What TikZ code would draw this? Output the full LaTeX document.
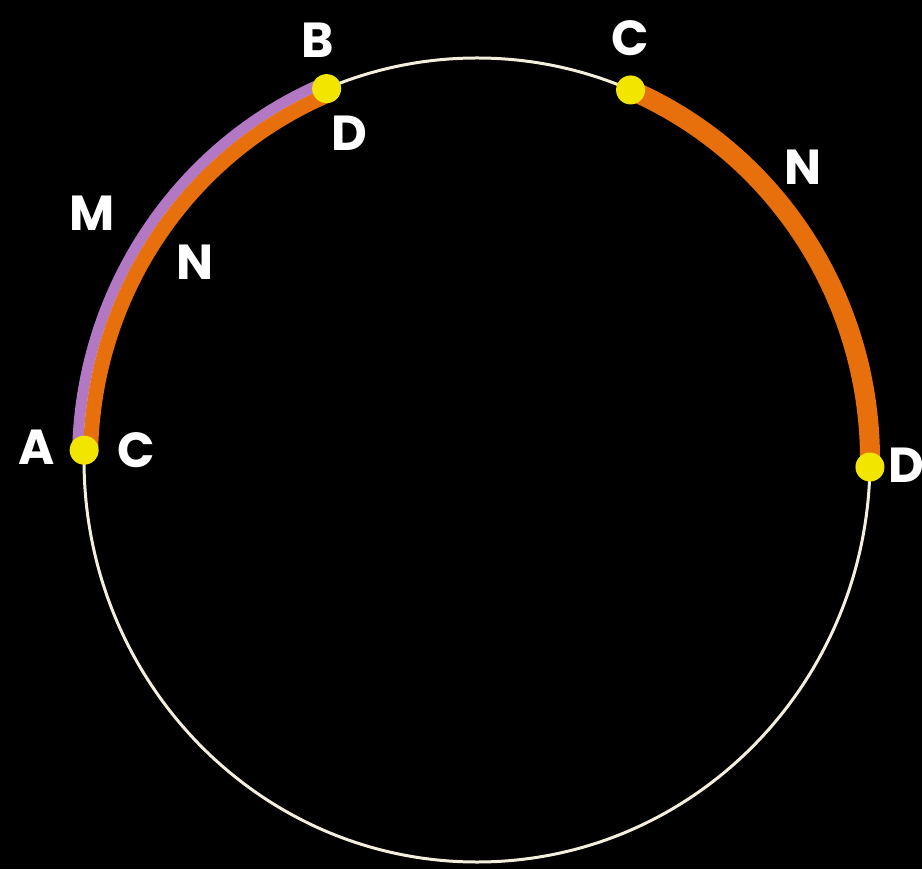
\documentclass[tikz,border=0pt]{standalone}
\usepackage{fontspec}
\newfontfamily\lblfont{Poppins}
\usetikzlibrary{positioning}
\definecolor{dotyellow}{HTML}{F2E600}
\definecolor{arcorange}{HTML}{E8700C}
\definecolor{arcmauve}{HTML}{B278C4}
\definecolor{ringwhite}{HTML}{F4EFDC}

\begin{document}
\begin{tikzpicture}[
        pt/.style={circle, fill=dotyellow, inner sep=0pt, minimum size=0.29cm},
        lbl/.style={text=white, font=\lblfont\bfseries\fontsize{14}{14}\selectfont, inner sep=0pt},
        ring/.style={draw=ringwhite, line width=0.03cm},
        band/.style={line width=#1}
    ]
    \useasboundingbox (0,0) rectangle (9.22,8.69);
    \fill[black] (0,0) rectangle (9.22,8.69);
    \coordinate (O) at (4.77,4.09);
    \draw[ring] (O) ellipse [x radius=3.93, y radius=4.02];

    % points on the circle
    \coordinate (posAC) at ([shift={(178.6:3.93 and 4.02)}]O);
    \coordinate (posBD) at ([shift={(112.5:3.93 and 4.02)}]O);
    \coordinate (posC) at ([shift={(67:3.93 and 4.02)}]O);
    \coordinate (posD) at ([shift={(-1:3.93 and 4.02)}]O);

    % arcs M and N
    \draw[band=0.11cm, arcmauve] ([shift={(178.6:3.995 and 4.085)}]O)
        arc[start angle=178.6, end angle=112.5, x radius=3.995, y radius=4.085];
    \draw[band=0.15cm, arcorange] ([shift={(178.6:3.865 and 3.955)}]O)
        arc[start angle=178.6, end angle=112.5, x radius=3.865, y radius=3.955];
    \draw[band=0.2cm, arcorange] (posC)
        arc[start angle=67, end angle=-1, x radius=3.93, y radius=4.02];

    \node[pt] (ptAC) at (posAC) {};
    \node[pt] (ptBD) at (posBD) {};
    \node[pt] (ptC) at (posC) {};
    \node[pt] (ptD) at (posD) {};

    \node[lbl] (labA) at ([shift={(-0.48,0.03)}]ptAC) {A};
    \node[lbl] (labC1) at ([shift={(0.52,0)}]ptAC) {C};
    \node[lbl] (labB) at ([shift={(-0.09,0.48)}]ptBD) {B};
    \node[lbl] (labD1) at ([shift={(0.23,-0.45)}]ptBD) {D};
    \node[lbl] (labC2) at ([shift={(0,0.52)}]ptC) {C};
    \node[lbl] (labD2) at ([shift={(0.36,0.02)}]ptD) {D};
    \node[lbl] (labM) at (0.92,6.56) {M};
    \node[lbl] (labN1) at (1.95,6.07) {N};
    \node[lbl] (labN2) at (8.03,7.02) {N};
\end{tikzpicture}
\end{document}
